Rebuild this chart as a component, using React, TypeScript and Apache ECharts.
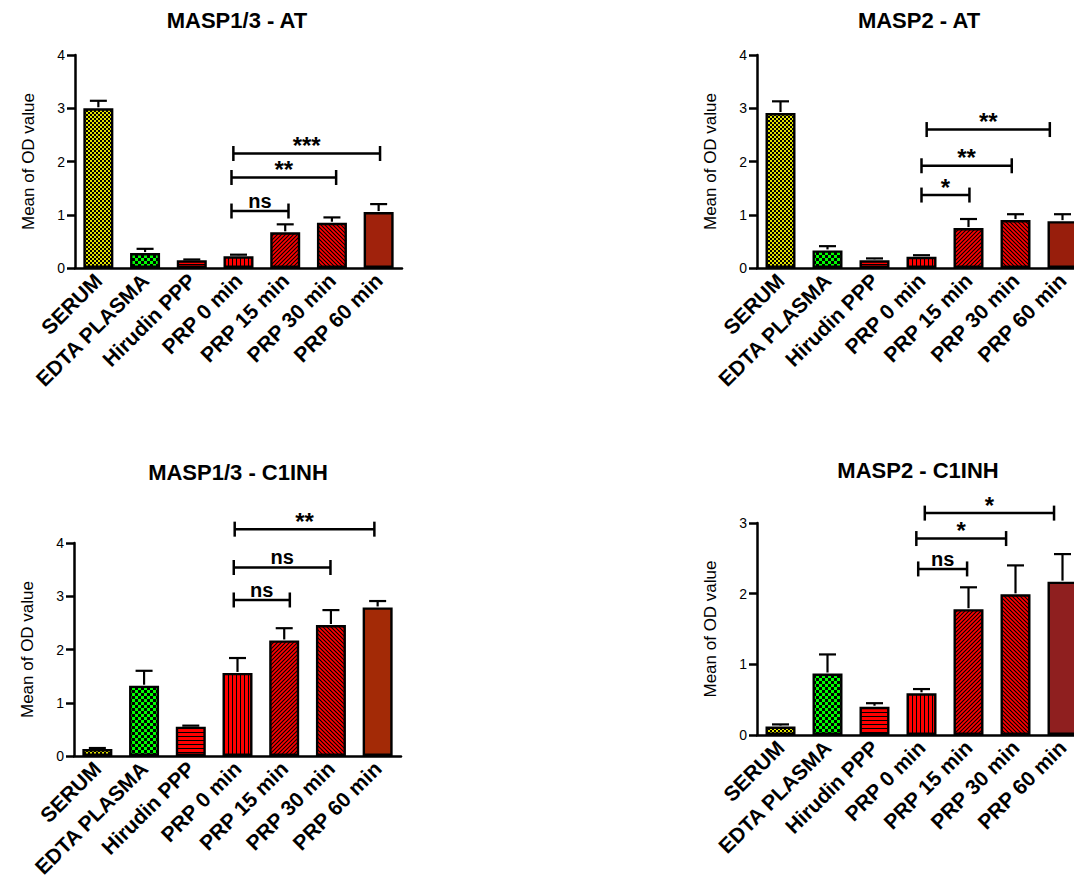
import React, { useEffect, useRef } from 'react';
import * as echarts from 'echarts';

const categories = ['SERUM', 'EDTA PLASMA', 'Hirudin PPP', 'PRP 0 min', 'PRP 15 min', 'PRP 30 min', 'PRP 60 min'];
const panelTitles = ['MASP1/3 - AT', 'MASP2 - AT', 'MASP1/3 - C1INH', 'MASP2 - C1INH'];
const yAxisName = 'Mean of OD value';
const yMaxValues = [4, 4, 4, 3];

const masp13AtMean = [3.0, 0.28, 0.145, 0.22, 0.67, 0.85, 1.05];
const masp13AtUpper = [3.14, 0.36, 0.16, 0.25, 0.82, 0.95, 1.2];
const masp2AtMean = [2.91, 0.33, 0.145, 0.21, 0.75, 0.9, 0.88];
const masp2AtUpper = [3.13, 0.41, 0.18, 0.24, 0.92, 1.01, 1.01];
const masp13C1Mean = [0.13, 1.32, 0.55, 1.56, 2.17, 2.46, 2.79];
const masp13C1Upper = [0.15, 1.6, 0.57, 1.84, 2.4, 2.74, 2.91];
const masp2C1Mean = [0.12, 0.87, 0.4, 0.59, 1.78, 1.99, 2.17];
const masp2C1Upper = [0.15, 1.14, 0.45, 0.65, 2.09, 2.4, 2.56];

// significance brackets: [from (category position), to (category position), y value]
const masp13AtBrackets = [[2.85, 4.07, 1.07], [2.85, 5.09, 1.7], [2.89, 6.03, 2.15]];
const masp13AtLabels = ['ns', '**', '***'];
const masp2AtBrackets = [[3.0, 4.02, 1.37], [3.0, 4.92, 1.92], [3.11, 5.73, 2.6]];
const masp2AtLabels = ['*', '**', '**'];
const masp13C1Brackets = [[2.92, 4.12, 2.93], [2.92, 4.99, 3.54], [2.94, 5.93, 4.26]];
const masp13C1Labels = ['ns', 'ns', '**'];
const masp2C1Brackets = [[2.93, 3.97, 2.35], [2.89, 4.8, 2.78], [3.07, 5.82, 3.14]];
const masp2C1Labels = ['ns', '*', '*'];

const panels = [
  { mean: masp13AtMean, upper: masp13AtUpper, brackets: masp13AtBrackets, labels: masp13AtLabels, solid: '#a0220c' },
  { mean: masp2AtMean, upper: masp2AtUpper, brackets: masp2AtBrackets, labels: masp2AtLabels, solid: '#981e0c' },
  { mean: masp13C1Mean, upper: masp13C1Upper, brackets: masp13C1Brackets, labels: masp13C1Labels, solid: '#a32a06' },
  { mean: masp2C1Mean, upper: masp2C1Upper, brackets: masp2C1Brackets, labels: masp2C1Labels, solid: '#8f1f1f' },
];

const gridBoxes = [
  { left: 75, top: 55, width: 327, height: 213, titleX: 237, titleY: 20 },
  { left: 757, top: 55, width: 329, height: 213, titleX: 919, titleY: 20 },
  { left: 74, top: 543, width: 327, height: 213, titleX: 238, titleY: 472 },
  { left: 757, top: 523, width: 329, height: 212, titleX: 918, titleY: 470 },
];

const FONT = '"Liberation Sans", Arial, Helvetica, sans-serif';

function tile(w: number, h: number, draw: (ctx: CanvasRenderingContext2D) => void) {
  const c = document.createElement('canvas');
  c.width = w;
  c.height = h;
  const ctx = c.getContext('2d') as CanvasRenderingContext2D;
  draw(ctx);
  return { image: c.toDataURL(), imageWidth: w, imageHeight: h, repeat: 'repeat' };
}

function makePatterns() {
  const red = '#ff0000';
  const serum = tile(4, 4, (ctx) => {
    ctx.fillStyle = '#e2e200';
    ctx.fillRect(0, 0, 4, 4);
    ctx.fillStyle = '#000';
    ctx.fillRect(0, 0, 2, 2);
    ctx.fillRect(2, 2, 2, 2);
  });
  const edta = tile(6, 6, (ctx) => {
    ctx.fillStyle = '#00ff00';
    ctx.fillRect(0, 0, 6, 6);
    ctx.fillStyle = '#000';
    ctx.fillRect(0, 0, 3, 3);
    ctx.fillRect(3, 3, 3, 3);
  });
  const horiz = tile(4, 4, (ctx) => {
    ctx.fillStyle = red;
    ctx.fillRect(0, 0, 4, 4);
    ctx.fillStyle = '#000';
    ctx.fillRect(0, 0, 4, 1);
  });
  const vert = tile(4, 4, (ctx) => {
    ctx.fillStyle = red;
    ctx.fillRect(0, 0, 4, 4);
    ctx.fillStyle = '#000';
    ctx.fillRect(0, 0, 1, 4);
  });
  const diag = (forward: boolean) =>
    tile(4, 4, (ctx) => {
      ctx.fillStyle = red;
      ctx.fillRect(0, 0, 4, 4);
      ctx.strokeStyle = '#000';
      ctx.lineWidth = 1.1;
      ctx.beginPath();
      if (forward) {
        ctx.moveTo(-1, 1); ctx.lineTo(1, -1);
        ctx.moveTo(0, 4); ctx.lineTo(4, 0);
        ctx.moveTo(3, 5); ctx.lineTo(5, 3);
      } else {
        ctx.moveTo(-1, 3); ctx.lineTo(1, 5);
        ctx.moveTo(0, 0); ctx.lineTo(4, 4);
        ctx.moveTo(3, -1); ctx.lineTo(5, 1);
      }
      ctx.stroke();
    });
  return [serum, edta, horiz, vert, diag(true), diag(false)];
}

export default function App() {
  const ref = useRef<HTMLDivElement>(null);
  useEffect(() => {
    if (!ref.current) return;
    const chart = echarts.init(ref.current, undefined, { renderer: 'svg' });
    const patterns = makePatterns();

    const grid: any[] = [];
    const xAxis: any[] = [];
    const yAxis: any[] = [];
    const series: any[] = [];
    const graphic: any[] = [];

    panels.forEach((p, i) => {
      const g = gridBoxes[i];
      grid.push({
        left: g.left,
        top: g.top,
        width: g.width,
        height: g.height,
        containLabel: false,
        outerBoundsMode: 'none',
      });
      xAxis.push({
        type: 'category',
        gridIndex: i,
        data: categories,
        axisLine: { lineStyle: { color: '#000', width: 2.5 } },
        axisTick: { alignWithLabel: true, length: 8, lineStyle: { color: '#000', width: 2.5 } },
        axisLabel: {
          interval: 0,
          rotate: 45,
          margin: 9,
          color: '#000',
          fontSize: 21,
          fontWeight: 'bold',
          fontFamily: FONT,
          hideOverlap: false,
        },
      });
      yAxis.push({
        type: 'value',
        gridIndex: i,
        min: 0,
        max: yMaxValues[i],
        interval: 1,
        name: yAxisName,
        nameLocation: 'middle',
        nameRotate: 90,
        nameGap: 38,
        nameTextStyle: { color: '#000', fontSize: 17, fontFamily: FONT },
        splitLine: { show: false },
        axisLine: { show: true, lineStyle: { color: '#000', width: 2.5 } },
        axisTick: { show: true, length: 8, lineStyle: { color: '#000', width: 2.5 } },
        axisLabel: { color: '#000', fontSize: 14, fontFamily: FONT, margin: 10 },
      });
      series.push({
        type: 'bar',
        xAxisIndex: i,
        yAxisIndex: i,
        barWidth: 30,
        data: p.mean.map((v, k) => ({
          value: v,
          itemStyle: {
            color: k < 6 ? patterns[k] : p.solid,
            borderColor: '#000',
            borderWidth: 2.4,
          },
        })),
        z: 2,
      });
      series.push({
        type: 'custom',
        xAxisIndex: i,
        yAxisIndex: i,
        z: 3,
        encode: { x: 0, y: [1, 2] },
        data: p.mean.map((v, k) => [k, v, p.upper[k]]),
        renderItem: (params: any, api: any) => {
          const base = api.coord([api.value(0), api.value(1)]);
          const top = api.coord([api.value(0), api.value(2)]);
          const half = 8.5;
          const st = { stroke: '#000', lineWidth: 2.2, fill: null };
          return {
            type: 'group',
            children: [
              { type: 'line', shape: { x1: base[0], y1: base[1] - 1, x2: top[0], y2: top[1] }, style: st },
              { type: 'line', shape: { x1: top[0] - half, y1: top[1], x2: top[0] + half, y2: top[1] }, style: st },
            ],
          };
        },
      });
      series.push({
        type: 'custom',
        xAxisIndex: i,
        yAxisIndex: i,
        z: 4,
        clip: false,
        encode: { x: 0, y: 2 },
        data: p.brackets,
        renderItem: (params: any, api: any) => {
          const b = p.brackets[params.dataIndex];
          const label = p.labels[params.dataIndex];
          const band = api.size([1, 0])[0];
          const origin = api.coord([0, b[2]]);
          const x1 = origin[0] + b[0] * band;
          const x2 = origin[0] + b[1] * band;
          const y = origin[1];
          const st = { stroke: '#000', lineWidth: 2.5, fill: null };
          const isNs = label === 'ns';
          return {
            type: 'group',
            children: [
              { type: 'line', shape: { x1, y1: y, x2, y2: y }, style: st },
              { type: 'line', shape: { x1, y1: y - 7.5, x2: x1, y2: y + 7.5 }, style: st },
              { type: 'line', shape: { x1: x2, y1: y - 7.5, x2, y2: y + 7.5 }, style: st },
              {
                type: 'text',
                style: {
                  text: label,
                  x: (x1 + x2) / 2,
                  y: y - (isNs ? 10 : 8),
                  align: 'center',
                  verticalAlign: 'middle',
                  textAlign: 'center',
                  textVerticalAlign: 'middle',
                  fill: '#000',
                  font: 'bold ' + (isNs ? 20 : 24) + 'px ' + FONT,
                },
              },
            ],
          };
        },
      });
      graphic.push({
        type: 'text',
        x: g.titleX,
        y: g.titleY,
        style: {
          text: panelTitles[i],
          align: 'center',
          verticalAlign: 'middle',
          textAlign: 'center',
          textVerticalAlign: 'middle',
          fill: '#000',
          font: 'bold 22px ' + FONT,
        },
      });
    });

    chart.setOption({
      animation: false,
      backgroundColor: '#fff',
      grid,
      xAxis,
      yAxis,
      series,
      graphic,
    });
    return () => chart.dispose();
  }, []);
  return (
    <div
      ref={ref}
      style={{ position: 'absolute', left: 0, top: 0, width: 1074, height: 884, background: '#fff' }}
    />
  );
}
